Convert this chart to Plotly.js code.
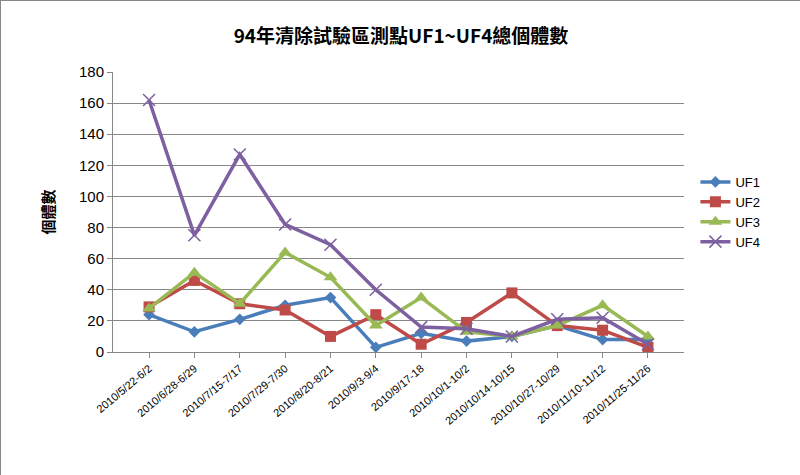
<!DOCTYPE html>
<html><head><meta charset="utf-8">
<script src="https://cdn.plot.ly/plotly-3.0.1.min.js"></script>
<style>body{margin:0;background:#fff}#c{width:800px;height:475px;border:1px solid #888;box-sizing:border-box}</style>
</head><body><div id="c"></div>
<script>
let cats = ['2010/5/22-6/2','2010/6/28-6/29','2010/7/15-7/17','2010/7/29-7/30','2010/8/20-8/21','2010/9/3-9/4','2010/9/17-18','2010/10/1-10/2','2010/10/14-10/15','2010/10/27-10/29','2010/11/10-11/12','2010/11/25-11/26'];
let uf1 = [24, 13, 21, 30, 35, 3, 12, 7, 10, 17, 8, 8];
let uf2 = [29, 46, 31, 27, 10, 24, 5, 19, 38, 17, 14, 3];
let uf3 = [28, 51, 31, 64, 48, 17, 35, 13, 10, 17, 30, 10];
let uf4 = [162, 75, 127, 82, 69, 40, 16, 15, 10, 21, 22, 5];

function tr(name, y, color, sym, size) {
    return {type: 'scatter', mode: 'lines+markers', name: name, x: cats, y: y,
        line: {color: color, width: 3.5}, marker: {color: color, symbol: sym, size: size}};
}
let data = [
    tr('UF1', uf1, '#4a7ebb', 'diamond', 9),
    tr('UF2', uf2, '#be4b48', 'square', 11),
    tr('UF3', uf3, '#98b954', 'triangle-up', 12),
    tr('UF4', uf4, '#7d60a0', 'x-thin-open', 12)
];
data[3].marker.line = {color: '#7d60a0', width: 1.5};

let layout = {
    width: 800, height: 475,
    margin: {l: 112, r: 117, t: 71, b: 124},
    title: {text: '<b>94年清除試驗區測點UF1~UF4總個體數</b>', x: 0.5, y: 0.94,
        font: {family: 'Noto Sans CJK TC', size: 19, color: '#000'}},
    font: {family: 'Liberation Sans', color: '#000'},
    xaxis: {type: 'category', tickangle: -40, tickfont: {size: 11}, showline: true, linecolor: '#888',
        ticks: 'outside', tickcolor: '#888', showgrid: false},
    yaxis: {range: [0, 180], dtick: 20, tickfont: {size: 15}, gridcolor: '#888', showline: true,
        linecolor: '#888', ticks: 'outside', tickcolor: '#888', zeroline: false,
        title: {text: '<b>個體數</b>', standoff: 20, font: {family: 'Noto Sans CJK TC', size: 15}}},
    legend: {x: 1.02, y: 0.5, yanchor: 'middle', font: {size: 13}, tracegroupgap: 18},
    showlegend: true
};
Plotly.newPlot('c', data, layout, {displayModeBar: false});
</script>
</body></html>
